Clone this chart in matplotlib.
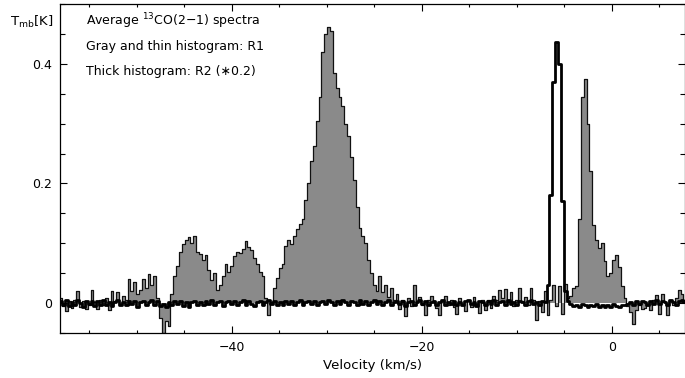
import numpy as np
import matplotlib
matplotlib.use("Agg")
import matplotlib.pyplot as plt
from matplotlib.ticker import MultipleLocator, FixedLocator, FixedFormatter

# Channel grid (km/s)
v_start = -58.0
v_step = 0.3
n_chan = 220

# R1 average spectrum, mK (gray, thin histogram)
r1_mK = [
    8, -5, -14, 3, -8, 5, 20, -6, 4, -10,
    -3, 22, 2, -10, 6, -4, 8, -12, 20, 3,
    18, -2, 12, 5, 40, 20, 36, 15, 22, 40,
    25, 48, 30, 45, 8, -25, -50, -30, -38, 15,
    45, 62, 85, 98, 105, 110, 100, 112, 86, 82,
    72, 80, 55, 38, 50, 22, 30, 45, 66, 52,
    62, 78, 85, 84, 90, 103, 94, 88, 75, 66,
    52, 45, 8, -20, 2, 25, 42, 58, 66, 95,
    105, 98, 112, 124, 133, 140, 172, 200, 238, 262,
    305, 345, 420, 450, 461, 455, 385, 360, 345, 330,
    300, 280, 245, 205, 160, 125, 112, 100, 72, 50,
    30, 20, 45, 18, 30, 10, 25, 5, 15, -10,
    5, -22, 8, -5, 30, 2, 10, -3, -20, 6,
    12, 3, -8, -20, 5, 12, -4, 6, -6, -18,
    8, -3, -14, 4, -6, 10, -2, -16, 5, -12,
    6, -8, 12, 5, 22, 8, 24, 2, 18, -5,
    5, 25, 3, 10, -4, 25, 6, -28, 4, -15,
    20, -20, 5, 30, -5, 28, -18, 32, 8, 12,
    25, 28, 140, 345, 375, 300, 220, 130, 105, 92,
    100, 70, 45, 50, 72, 80, 60, 28, 8, -5,
    -15, -35, -12, -3, -10, -8, -3, -12, 5, 14,
    -18, 16, 2, -20, 6, -4, 8, 22, 15, 5,
]

# R2 average spectrum scaled by 0.2, mK (thick histogram)
r2_mK = [
    4, -3, 6, -5, 2, -4, 5, 0, -6, 3,
    -2, 4, -5, 3, -3, 6, -4, 1, -5, 2,
    5, -3, 2, -4, 4, -2, 3, -6, 1, 4,
    -3, 2, 5, -4, 3, -5, -2, -6, 1, -3,
    4, -2, 3, -5, 2, -7, 1, 4, -3, 2,
    -4, 3, -2, 5, -3, 2, 4, -5, 1, 3,
    -2, 4, -3, 2, 5, -4, 3, -1, -5, 2,
    4, -3, 1, 5, -2, 3, -4, 2, -3, 4,
    -1, 3, -4, 2, 5, -3, 1, 4, -2, 3,
    -3, 2, 4, -2, 6, 1, -3, 3, -1, 5,
    2, -4, 3, 1, -3, 5, -2, 4, -3, 2,
    5, -2, 3, -4, 2, 6, -3, 1, 4, -2,
    3, -5, 2, 4, -3, 1, 5, -2, 3, -4,
    2, 4, -3, 1, 5, -4, 2, -2, 4, -3,
    1, -4, 3, 5, -2, 2, -5, 3, 1, -3,
    4, -2, 5, -3, 2, 3, -4, 6, -1, 2,
    -3, 4, 1, -4, 3, 5, -2, 2, -3, 4,
    2, 30, 180, 370, 436, 400, 170, 20, 3, -2,
    -5, -3, -6, -2, -4, -7, -3, -5, -2, -6,
    -4, -6, -3, -7, -2, -5, -6, -3, -4, -2,
    2, -3, 4, -2, 3, 1, -4, 3, -1, 5,
    -2, 4, 1, -3, 5, 2, -4, 3, 6, 2,
]

x_ticks = [-40, -20, 0]
x_ticklabels = ["\u221240", "\u221220", "0"]
y_ticks = [0, 0.2, 0.4]
y_ticklabels = ["0", "0.2", "0.4"]

title_lines = [
    "Average $^{13}$CO(2\u22121) spectra",
    "Gray and thin histogram: R1",
    "Thick histogram: R2 (\u22170.2)",
]

v = v_start + v_step * np.arange(n_chan)
r1 = np.array(r1_mK) / 1000.0
r2 = np.array(r2_mK) / 1000.0

W, H = 685, 378
fig = plt.figure(figsize=(W / 100, H / 100), dpi=100)
ax = fig.add_axes([60 / W, 1 - 333 / H, (684.5 - 60) / W, (333 - 4) / H])

ax.fill_between(v, r1, 0, step="mid", color="#8a8a8a", lw=0)
ax.step(v, r1, where="mid", color="#111111", lw=0.9)
ax.step(v, r2, where="mid", color="black", lw=2.0)

ax.set_xlim(-58.07, 7.66)
ax.set_ylim(-0.05, 0.5)

ax.xaxis.set_major_locator(FixedLocator(x_ticks))
ax.xaxis.set_major_formatter(FixedFormatter(x_ticklabels))
ax.xaxis.set_minor_locator(MultipleLocator(5))
ax.yaxis.set_major_locator(FixedLocator(y_ticks))
ax.yaxis.set_major_formatter(FixedFormatter(y_ticklabels))
ax.yaxis.set_minor_locator(MultipleLocator(0.05))

ax.tick_params(which="both", direction="in", top=True, right=True, width=0.8,
               labelsize=9, colors="black")
ax.tick_params(axis="x", which="major", length=5, pad=6)
ax.tick_params(axis="x", which="minor", length=2.5)
ax.tick_params(axis="y", which="major", length=5, pad=6)
ax.tick_params(axis="y", which="minor", length=3.5)
for s in ax.spines.values():
    s.set_linewidth(0.9)

ax.set_xlabel("Velocity (km/s)", fontsize=9.5, labelpad=3)

fig.text(10 / W, 1 - 22 / H, r"T$_{\rm mb}$[K]", fontsize=9.5, va="center", ha="left")
for i, line in enumerate(title_lines):
    fig.text(86 / W, 1 - (21 + 25.5 * i) / H, line, fontsize=9, va="center", ha="left")

fig.savefig("out.png", dpi=100)
